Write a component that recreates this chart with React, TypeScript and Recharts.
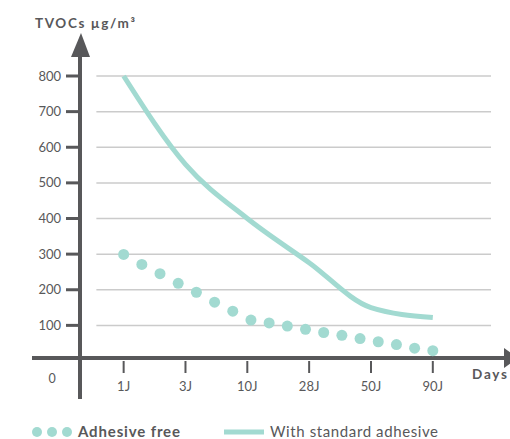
import {
  ComposedChart,
  Line,
  Scatter,
  XAxis,
  YAxis,
  ReferenceLine,
  Customized,
} from "recharts";

const days = ["1J", "3J", "10J", "28J", "50J", "90J"];
const dayIndex = [0, 3.4, 6.8, 10.2, 13.6, 17];
const standardAdhesive = [800, 552, 400, 276, 150, 122];
const adhesiveFree = [
  299, 271, 245, 218, 193, 165, 140, 115, 107, 98, 89, 80, 72, 63, 54, 46, 36, 29,
];
const yTicks = [100, 200, 300, 400, 500, 600, 700, 800];

const TEAL = "#a2dad1";
const DARK = "#58585a";
const FONT = "Lato, 'Noto Sans', sans-serif";

const lineData = days.map((day, i) => ({ x: dayIndex[i], tvoc: standardAdhesive[i], day }));
const dotData = adhesiveFree.map((value, i) => ({ x: i, tvoc: value }));

function Decor() {
  return (
    <g fontFamily={FONT}>
      {/* axes with arrows */}
      <line x1={32} y1={358} x2={506} y2={358} stroke={DARK} strokeWidth={4} />
      <polygon points="504,348 518,358 504,368" fill={DARK} />
      <line x1={80} y1={52} x2={80} y2={399} stroke={DARK} strokeWidth={4} />
      <polygon points="71,57 81,33 90,57" fill={DARK} />

      <text x={35} y={28} fontSize={13.5} fontWeight={700} fill={DARK} textLength={100} lengthAdjust="spacing">
        TVOCs µg/m³
      </text>
      <text x={52} y={382.5} fontSize={12.5} fill={DARK} textAnchor="middle">
        0
      </text>
      <text x={472} y={379} fontSize={13.5} fontWeight={700} fill={DARK} textLength={35} lengthAdjust="spacing">
        Days
      </text>

      {/* legend */}
      {[37, 52, 67].map((cx) => (
        <circle key={cx} cx={cx} cy={432} r={5} fill={TEAL} />
      ))}
      <text x={78} y={437} fontSize={15} fontWeight={700} fill={DARK} textLength={102} lengthAdjust="spacing">
        Adhesive free
      </text>
      <line x1={224} y1={432} x2={264} y2={432} stroke={TEAL} strokeWidth={5} />
      <text x={270} y={437} fontSize={15} fill={DARK} textLength={168} lengthAdjust="spacing">
        With standard adhesive
      </text>
    </g>
  );
}

export default function App() {
  return (
    <div style={{ position: "absolute", left: 0, top: 0, width: 510, height: 439 }}>
      <ComposedChart
        width={510}
        height={439}
        margin={{ top: 76, right: 19, bottom: 48, left: 0 }}
      >
        <XAxis
          type="number"
          dataKey="x"
          domain={[-2.4, 20.2]}
          ticks={dayIndex}
          tickFormatter={(v: number) => days[dayIndex.indexOf(v)] ?? ""}
          allowDataOverflow
          height={30}
          axisLine={false}
          tickLine={{ stroke: DARK, strokeWidth: 2 }}
          tickSize={12}
          tickMargin={9}
          tick={{ fill: DARK, fontSize: 13, fontFamily: FONT }}
        />
        <YAxis
          type="number"
          domain={[0, 800]}
          ticks={yTicks}
          width={80}
          axisLine={false}
          tickLine={{ stroke: DARK, strokeWidth: 3 }}
          tickSize={14}
          tickMargin={5}
          tick={{ fill: DARK, fontSize: 13, fontFamily: FONT }}
        />
        {yTicks.map((v) => (
          <ReferenceLine
            key={v}
            segment={[
              { x: -1.5, y: v },
              { x: 20.2, y: v },
            ]}
            stroke="#cbcbcb"
            strokeWidth={1.5}
            ifOverflow="visible"
          />
        ))}
        <Line
          data={lineData}
          dataKey="tvoc"
          type="monotone"
          stroke={TEAL}
          strokeWidth={5}
          strokeLinejoin="round"
          dot={false}
          activeDot={false}
          isAnimationActive={false}
        />
        <Scatter
          data={dotData}
          dataKey="tvoc"
          fill={TEAL}
          isAnimationActive={false}
          shape={(p: any) => <circle cx={p.cx} cy={p.cy} r={5.5} fill={TEAL} />}
        />
        <Customized component={<Decor />} />
      </ComposedChart>
    </div>
  );
}
